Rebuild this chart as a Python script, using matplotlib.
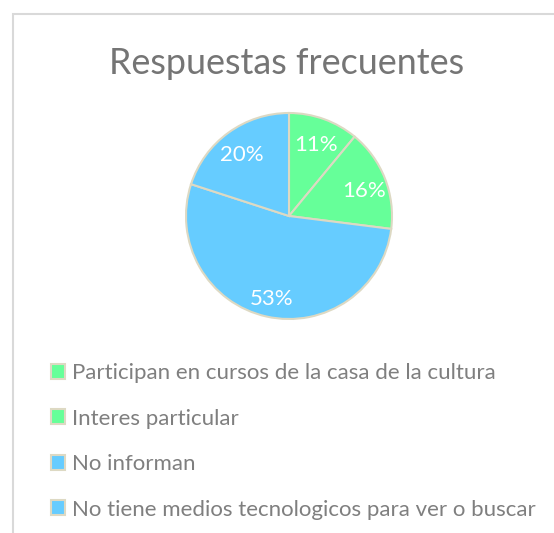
import matplotlib
matplotlib.use("Agg")
import matplotlib.pyplot as plt
from matplotlib.patches import Patch, Rectangle

categories = ["Participan en cursos de la casa de la cultura",
              "Interes particular",
              "No informan",
              "No tiene medios tecnologicos para ver o buscar"]
values = [11, 16, 53, 20]
colors = ["#66FF99", "#66FF99", "#66CCFF", "#66CCFF"]
edge = "#DDD9C3"
title = "Respuestas frecuentes"

plt.rcParams['font.family'] = ['Lato', 'DejaVu Sans']

W, H = 554, 533
fig = plt.figure(figsize=(W/100, H/100), dpi=100)
fig.patch.set_facecolor("white")

# frame
fig.add_artist(Rectangle((12.5/W, -0.1), 2.0, (H-13.5)/H + 0.1, transform=fig.transFigure,
                         fill=False, edgecolor="#D9D9D9", linewidth=1.5))

cx, cy, r = 289, 216, 103
ax = fig.add_axes([(cx-r)/W, (H-cy-r)/H, 2*r/W, 2*r/H])
wedges, texts, autotexts = ax.pie(values, colors=colors, startangle=90, counterclock=False,
                                  autopct=lambda p: f"{p:.0f}%", pctdistance=0.78,
                                  wedgeprops=dict(edgecolor=edge, linewidth=1.5),
                                  textprops=dict(color="white", fontsize=16))
for t in autotexts:
    x, y = t.get_position()
    t.set_position((x, y - 0.04))
ax.set_aspect("equal")
ax.set_xlim(-1, 1); ax.set_ylim(-1, 1)

fig.text(287/W, 1 - 63/H, title, ha="center", va="center", fontsize=25.8, color="#757575")

handles = [Patch(facecolor=c, edgecolor=edge, linewidth=1.5) for c in colors]
leg = fig.legend(handles, categories, loc="upper left", bbox_to_anchor=(51/W, 1 - 363/H),
                 frameon=False, fontsize=16, labelcolor="#7F7F7F",
                 handlelength=0.65, handleheight=0.65, handletextpad=0.3,
                 labelspacing=1.15, borderpad=0, borderaxespad=0)

fig.savefig("out.png", dpi=100)
